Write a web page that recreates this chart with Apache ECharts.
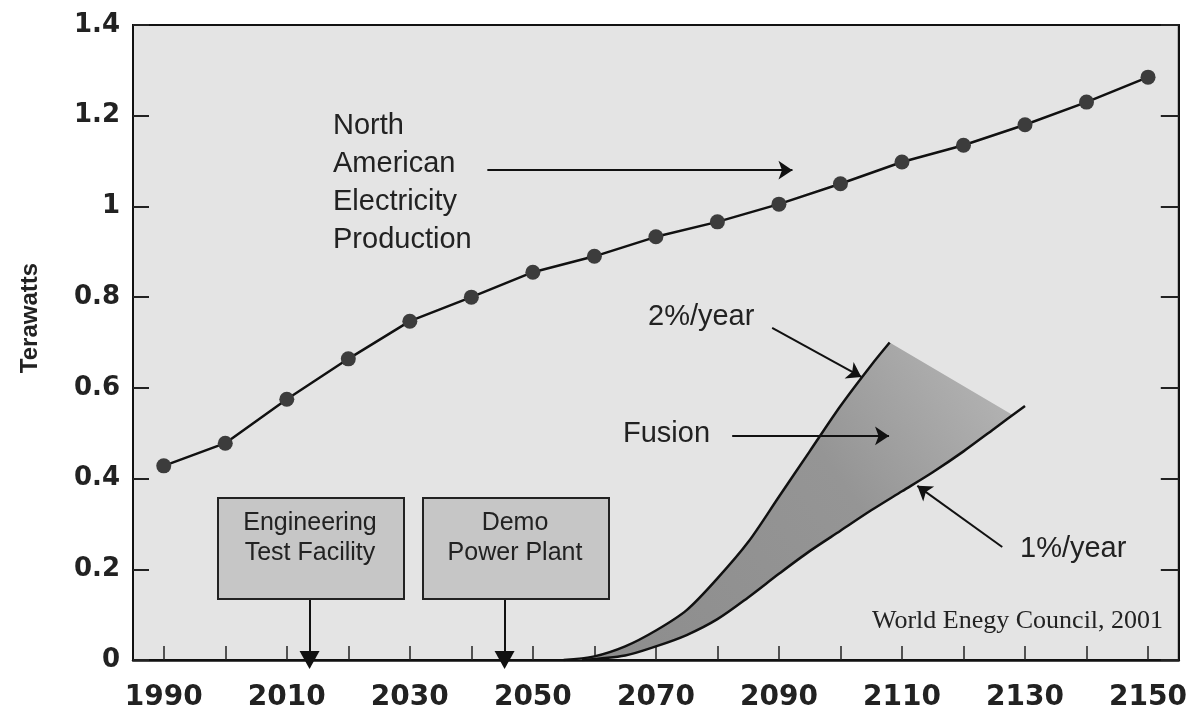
<!DOCTYPE html>
<html>
<head>
<meta charset="utf-8">
<script src="https://cdn.jsdelivr.net/npm/echarts@6/dist/echarts.min.js"></script>
<style>
  html, body { margin: 0; padding: 0; background: #fff; }
  #chart { width: 1190px; height: 727px; }
</style>
</head>
<body>
<div id="chart"></div>
<script>
// North American electricity production (TW), one point every 10 years
const years = [1990, 2000, 2010, 2020, 2030, 2040, 2050, 2060, 2070, 2080, 2090, 2100, 2110, 2120, 2130, 2140, 2150];
const electricity = [0.428, 0.478, 0.575, 0.664, 0.747, 0.80, 0.855, 0.89, 0.933, 0.966, 1.005, 1.05, 1.098, 1.135, 1.18, 1.23, 1.285];

// fusion growth scenarios [year, TW]
const fusion2pct = [[2055, 0], [2060, 0.008], [2065, 0.03], [2070, 0.065], [2075, 0.11], [2080, 0.18],
  [2085, 0.26], [2090, 0.36], [2095, 0.46], [2100, 0.56], [2105, 0.65], [2108, 0.70]];
const fusion1pct = [[2058, 0], [2065, 0.01], [2070, 0.03], [2075, 0.055], [2080, 0.09], [2085, 0.138],
  [2090, 0.19], [2095, 0.24], [2100, 0.285], [2105, 0.33], [2110, 0.372], [2115, 0.414],
  [2120, 0.46], [2125, 0.51], [2130, 0.56]];
// where the shaded band meets the 1%/year curve at its right end
const bandEnd = [2128, 0.54];

// axis ticks / labels
const xTicks = [1990, 2000, 2010, 2020, 2030, 2040, 2050, 2060, 2070, 2080, 2090, 2100, 2110, 2120, 2130, 2140, 2150];
const xLabels = [1990, 2010, 2030, 2050, 2070, 2090, 2110, 2130, 2150];

// milestone arrows (year)
const etfYear = 2013.7;
const demoYear = 2045.4;

const chart = echarts.init(document.getElementById('chart'));

const textStyle = { fontFamily: 'Liberation Sans', fontSize: 29, fill: '#222' };

const option = {
  backgroundColor: '#fff',
  animation: false,
  grid: {
    left: 133, right: 10, top: 25, bottom: 67,
    show: true,
    backgroundColor: '#e4e4e4',
    borderColor: '#111',
    borderWidth: 2
  },
  xAxis: {
    type: 'value',
    min: 1985,
    max: 2155,
    splitLine: { show: false },
    axisLine: { show: true, lineStyle: { color: '#111', width: 2.5 } },
    axisTick: { show: true, inside: true, length: 14, customValues: xTicks, lineStyle: { color: '#222', width: 1.5 } },
    axisLabel: {
      customValues: xLabels,
      formatter: v => String(v),
      margin: 24,
      fontFamily: 'DejaVu Sans',
      fontWeight: 'bold',
      fontSize: 28,
      color: '#222'
    }
  },
  yAxis: [
    {
      type: 'value',
      min: 0,
      max: 1.4,
      interval: 0.2,
      splitLine: { show: false },
      axisLine: { show: true, lineStyle: { color: '#111', width: 2 } },
      axisTick: { show: true, inside: true, length: 16, lineStyle: { color: '#222', width: 2 } },
      axisLabel: {
        margin: 13,
        fontFamily: 'DejaVu Sans',
        fontWeight: 'bold',
        fontSize: 26,
        color: '#222'
      }
    },
    {
      type: 'value',
      min: 0,
      max: 1.4,
      interval: 0.2,
      position: 'right',
      splitLine: { show: false },
      axisLine: { show: true, lineStyle: { color: '#111', width: 2 } },
      axisTick: { show: true, inside: true, length: 18, lineStyle: { color: '#222', width: 2 } },
      axisLabel: { show: false }
    }
  ],
  series: [
    {
      // shaded band between the two fusion curves
      type: 'custom',
      silent: true,
      z: 1,
      data: [0],
      renderItem: function (params, api) {
        const pts = fusion2pct.map(p => api.coord(p));
        pts.push(api.coord(bandEnd));
        const lower = fusion1pct.filter(p => p[0] <= bandEnd[0]).slice().reverse();
        lower.forEach(p => pts.push(api.coord(p)));
        return {
          type: 'polygon',
          shape: { points: pts, smooth: 0 },
          style: {
            fill: new echarts.graphic.LinearGradient(0, 1, 1, 0, [
              { offset: 0, color: '#8c8c8c' },
              { offset: 0.6, color: '#959595' },
              { offset: 1, color: '#b8b8b8' }
            ]),
            stroke: null
          }
        };
      }
    },
    {
      name: '2%/year',
      type: 'line',
      data: fusion2pct,
      smooth: 0.3,
      symbol: 'none',
      z: 3,
      lineStyle: { color: '#111', width: 2.5 }
    },
    {
      name: '1%/year',
      type: 'line',
      data: fusion1pct,
      smooth: 0.3,
      symbol: 'none',
      z: 3,
      lineStyle: { color: '#111', width: 2.5 }
    },
    {
      name: 'North American Electricity Production',
      type: 'line',
      data: years.map((y, i) => [y, electricity[i]]),
      symbol: 'circle',
      symbolSize: 15,
      z: 4,
      itemStyle: { color: '#3c3c3c' },
      lineStyle: { color: '#111', width: 2.5 },
      markLine: {
        silent: true,
        symbol: ['none', 'arrow'],
        symbolSize: 14,
        label: { show: false },
        lineStyle: { color: '#111', width: 2, type: 'solid' },
        data: [
          [{ coord: [2042.6, 1.08] }, { coord: [2092.2, 1.08] }],
          [{ coord: [2088.9, 0.732] }, { coord: [2103.4, 0.624] }],
          [{ coord: [2082.4, 0.494] }, { coord: [2107.9, 0.494] }],
          [{ coord: [2126.3, 0.249] }, { coord: [2112.5, 0.384] }],
          [{ coord: [etfYear, 0.137] }, { coord: [etfYear, 0], symbol: 'triangle', symbolSize: [20, 18], symbolRotate: 180 }],
          [{ coord: [demoYear, 0.137] }, { coord: [demoYear, 0], symbol: 'triangle', symbolSize: [20, 18], symbolRotate: 180 }]
        ]
      }
    }
  ],
  graphic: [
    {
      type: 'text', x: 30, y: 318, rotation: Math.PI / 2, z: 10,
      style: {
        text: 'Terawatts', fontFamily: 'Liberation Sans', fontWeight: 'bold', fontSize: 24,
        fill: '#222', align: 'center', verticalAlign: 'middle'
      }
    },
    {
      type: 'text', left: 333, top: 107, z: 10,
      style: Object.assign({}, textStyle, { text: 'North\nAmerican\nElectricity\nProduction', lineHeight: 38 })
    },
    { type: 'text', left: 648, top: 302, z: 10, style: Object.assign({}, textStyle, { text: '2%/year' }) },
    { type: 'text', left: 623, top: 419, z: 10, style: Object.assign({}, textStyle, { text: 'Fusion' }) },
    { type: 'text', left: 1020, top: 534, z: 10, style: Object.assign({}, textStyle, { text: '1%/year' }) },
    {
      type: 'rect', left: 217, top: 497, z: 10,
      shape: { width: 186, height: 101 },
      style: { fill: '#c6c6c6', stroke: '#222', lineWidth: 2 }
    },
    {
      type: 'rect', left: 422, top: 497, z: 10,
      shape: { width: 186, height: 101 },
      style: { fill: '#c6c6c6', stroke: '#222', lineWidth: 2 }
    },
    {
      type: 'text', x: 310, y: 538, z: 11,
      style: {
        text: 'Engineering\nTest Facility', fontFamily: 'Liberation Sans', fontSize: 25, lineHeight: 30,
        fill: '#222', align: 'center', verticalAlign: 'middle'
      }
    },
    {
      type: 'text', x: 515, y: 538, z: 11,
      style: {
        text: 'Demo\nPower Plant', fontFamily: 'Liberation Sans', fontSize: 25, lineHeight: 30,
        fill: '#222', align: 'center', verticalAlign: 'middle'
      }
    },
    {
      type: 'text', left: 872, top: 608, z: 10,
      style: { text: 'World Enegy Council, 2001', fontFamily: 'Liberation Serif', fontSize: 26, fill: '#222' }
    }
  ]
};

chart.setOption(option);
</script>
</body>
</html>
